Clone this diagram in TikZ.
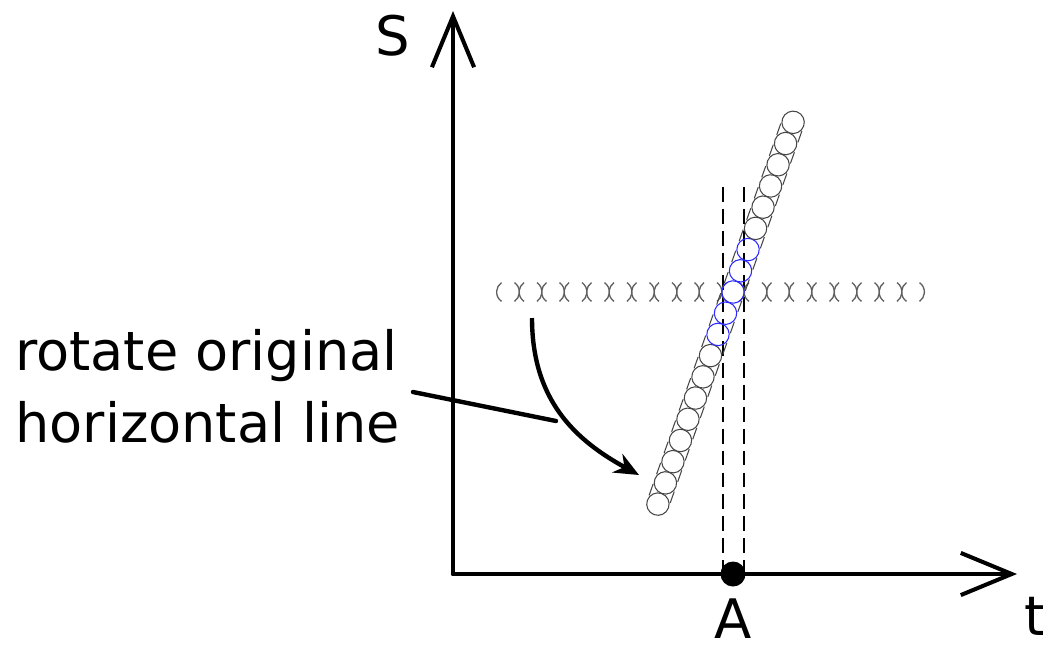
\documentclass[tikz,border=0pt]{standalone}
\usepackage{fontspec}
\setmainfont{DejaVu Sans}
\usetikzlibrary{arrows.meta,positioning,calc}
\definecolor{ringgray}{RGB}{95,95,95}
\definecolor{ringdark}{RGB}{70,70,70}
\definecolor{ringblue}{RGB}{40,40,255}
\tikzset{
    axis/.style={
        line width=2.3pt,
        line cap=round,
        -{Straight Barb[length=29pt,width=24pt,line width=2.3pt]}
    },
    lbl/.style={
        inner sep=0pt,
        font=\fontsize{31}{36}\selectfont
    },
    note/.style={
        inner sep=0pt,
        anchor=base west,
        font=\fontsize{30.8}{40}\selectfont
    },
    band/.style={
        line width=0.7pt,
        dash pattern=on 8.5pt off 4pt
    },
    swing/.style={
        line width=2.5pt,
        -{Stealth[length=14pt,width=12pt]}
    },
    leader/.style={
        line width=2.5pt,
        line cap=round
    },
    ring/.style={
        draw=ringdark,
        line width=0.6pt
    },
    arcring/.style={
        draw=ringgray,
        line width=0.75pt
    },
    dotA/.style={
        circle,
        fill=black,
        inner sep=0pt,
        minimum size=0.5cm
    }
}

\begin{document}
\begin{tikzpicture}[x=0.02cm, y=-0.02cm]
    \useasboundingbox (0,0) rectangle (1043,649);

    % Axes
    \coordinate (origin) at (453,574);
    \coordinate (stip) at (453,11);
    \coordinate (ttip) at (1017,574);
    \draw[axis] (origin) -- (stip);
    \draw[axis] (origin) -- (ttip);
    \node[lbl, anchor=base] (slabel) at (393,55) {S};
    \node[lbl, anchor=base] (tlabel) at (1035,635) {t};

    % Point A and its band
    \node[dotA] (ptA) at (733,574) {};
    \node[lbl, below=0.24cm of ptA] (alabel) {A};
    \coordinate (bandL) at (723,187);
    \coordinate (bandR) at (744,187);
    \draw[band] (bandL) -- (bandL |- ptA.center);
    \draw[band] (bandR) -- (bandR |- ptA.center);

    % Original horizontal line of circles
    \coordinate (pivot) at (733,292);
    \foreach \k in {0,...,18} {
        \draw[arcring] ($(pivot)+({(\k-10)*22.5},0)$) ++(125:11.4) arc[start angle=125, end angle=235, radius=11.4];
        \draw[arcring] ($(pivot)+({(\k-10)*22.5},0)$) ++(-55:11.4) arc[start angle=-55, end angle=55, radius=11.4];
    }

    % Rotated line of circles
    \begin{scope}[shift={(pivot)}, rotate=70.5]
        \foreach \k in {0,...,18} {
            \ifnum\k<8
                \draw[ring] ({(\k-10)*22.5},0) circle[radius=11.2];
            \else\ifnum\k>12
                \draw[ring] ({(\k-10)*22.5},0) circle[radius=11.2];
            \else
                \draw[ring, draw=ringblue] ({(\k-10)*22.5},0) circle[radius=11.2];
            \fi\fi
        }
        \foreach \k in {0,...,17} {
            \draw[ring] ({(\k-10)*22.5+11.25-6},11.2) -- ++(12,0);
            \draw[ring] ({(\k-10)*22.5+11.25-6},-11.2) -- ++(12,0);
        }
    \end{scope}

    % Annotation
    \node[note] (rot1) at (15,370) {rotate original};
    \node[note] (rot2) at (15,442) {horizontal line};
    \coordinate (leadstart) at (413,392);
    \coordinate (leadend) at (556,421);
    \draw[leader] (leadstart) -- (leadend);
    \coordinate (swingfrom) at (532,318);
    \coordinate (swingto) at (639,475);
    \draw[swing] (swingfrom) .. controls (532,400) and (575,440) .. (swingto);
\end{tikzpicture}
\end{document}
